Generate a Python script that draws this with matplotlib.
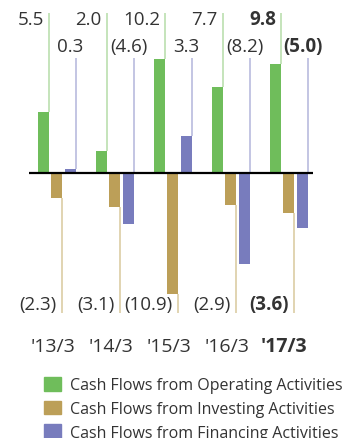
import matplotlib.pyplot as plt
from matplotlib.patches import Patch

plt.rcParams['font.family'] = ['Open Sans', 'DejaVu Sans']

# Cash flows by fiscal year (billions of yen)
years = ["'13/3", "'14/3", "'15/3", "'16/3", "'17/3"]
operating = [5.5, 2.0, 10.2, 7.7, 9.8]
investing = [-2.3, -3.1, -10.9, -2.9, -3.6]
financing = [0.3, -4.6, 3.3, -8.2, -5.0]

green = '#6fbd5b'
brown = '#bc9f58'
blue = '#787cbd'
green_line = '#b5dca8'
brown_line = '#d9c99c'
blue_line = '#b3b5db'
text_color = '#333333'


def fmt(v):
    return f'{v:.1f}' if v >= 0 else f'({-v:.1f})'


fig = plt.figure(figsize=(3.42, 4.39), dpi=100)
ax = fig.add_axes([0, 0, 1, 1])
ax.set_xlim(-0.974, 4.922)
ax.set_ylim(-23.9, 15.65)
ax.axis('off')

width = 0.19
off_g, off_b = -0.224, 0.241
x = list(range(len(years)))

ax.bar([i + off_g for i in x], operating, width, color=green, zorder=2)
ax.bar(x, investing, width, color=brown, zorder=2)
ax.bar([i + off_b for i in x], financing, width, color=blue, zorder=2)

ax.hlines(0, -0.474, 4.42, color='black', lw=1.6, zorder=3)

edge = width / 2
for i in x:
    last = i == len(years) - 1
    weight = 'bold' if last else 'normal'

    # operating: leader up from the bar top, label to its left
    gx = i + off_g + edge
    ax.vlines(gx, operating[i], 14.4, color=green_line, lw=1.1, zorder=1)
    ax.text(gx - 0.09, 13.85, fmt(operating[i]), ha='right', va='center',
            fontsize=13.5, color=text_color, fontweight=weight)

    # financing: leader up from the bar (or the zero line)
    bx = i + off_b + edge
    ax.vlines(bx, max(financing[i], 0), 10.3, color=blue_line, lw=1.1,
              zorder=1)
    ax.text(i + off_b, 11.4, fmt(financing[i]), ha='center', va='center',
            fontsize=13.5, color=text_color, fontweight=weight)

    # investing: leader down from the bar bottom, label to its left
    ix = i + edge
    ax.vlines(ix, investing[i], -12.64, color=brown_line, lw=1.1, zorder=1)
    ax.text(ix - 0.09, -11.83, fmt(investing[i]), ha='right', va='center',
            fontsize=13.5, color=text_color, fontweight=weight)

    ax.text(i - 0.07, -15.6, years[i], ha='center', va='center',
            fontsize=14, color=text_color, fontweight=weight)

handles = [Patch(color=green), Patch(color=brown), Patch(color=blue)]
labels = ['Cash Flows from Operating Activities',
          'Cash Flows from Investing Activities',
          'Cash Flows from Financing Activities']
fig.legend(handles, labels, loc='upper left',
           bbox_to_anchor=(44 / 342, 1 - 378 / 439), frameon=False,
           fontsize=11.5, handlelength=1.06, handleheight=0.95,
           handletextpad=0.55, labelspacing=0.45, borderpad=0,
           borderaxespad=0, labelcolor=text_color)

fig.savefig('out.png', dpi=100)
